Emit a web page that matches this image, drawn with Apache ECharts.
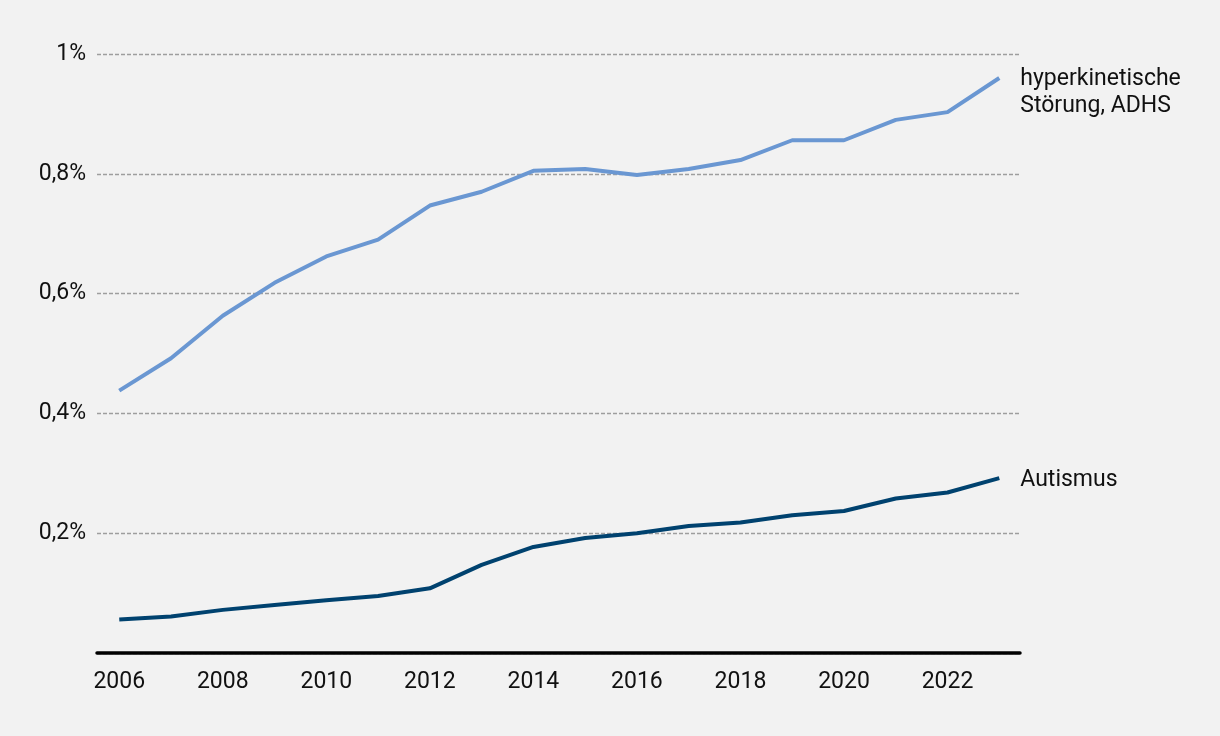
<!DOCTYPE html>
<html><head><meta charset="utf-8">
<script src="https://cdn.jsdelivr.net/npm/echarts@6/dist/echarts.min.js"></script>
<style>html,body{margin:0;padding:0;background:#f2f2f2;}#c{width:1220px;height:736px;}</style>
</head><body><div id="c"></div>
<script>
const years = [2006,2007,2008,2009,2010,2011,2012,2013,2014,2015,2016,2017,2018,2019,2020,2021,2022,2023];
const adhs = [0.438,0.492,0.563,0.618,0.662,0.690,0.747,0.770,0.805,0.808,0.798,0.808,0.823,0.856,0.856,0.890,0.903,0.960];
const autismus = [0.056,0.061,0.072,0.080,0.088,0.095,0.108,0.147,0.177,0.192,0.200,0.212,0.218,0.230,0.237,0.258,0.268,0.292];
const xTickLabels = [2006,2008,2010,2012,2014,2016,2018,2020,2022];
const seriesNames = ['hyperkinetische\nStörung, ADHS','Autismus'];
const FONT = 'Roboto, sans-serif';
const FS = 23;
const chart = echarts.init(document.getElementById('c'));
chart.setOption({
  backgroundColor:'#f2f2f2',
  animation:false,
  grid:{left:97,right:200,top:54,bottom:83,containLabel:false},
  xAxis:{type:'value',min:2005.57,max:2023.4,
    axisLine:{show:true,lineStyle:{color:'#000',width:3.5}},
    axisTick:{show:false},
    splitLine:{show:false},
    axisLabel:{customValues:xTickLabels,formatter:v=>String(v),color:'#111',fontFamily:FONT,fontSize:FS,margin:18}
  },
  yAxis:{type:'value',min:0,max:1,interval:0.2,
    axisLine:{show:false},axisTick:{show:false},
    splitLine:{show:true,lineStyle:{color:'#9e9e9e',type:[4,2],width:1.3}},
    axisLabel:{color:'#111',fontFamily:FONT,fontSize:FS,margin:11,
      formatter:v=>{ if(v===0) return ''; const r=Math.round(v*10)/10; return (r===1?'1':String(r).replace('.',','))+'%'; }}
  },
  series:[
    {name:seriesNames[0],type:'line',data:years.map((y,i)=>[y,adhs[i]]),showSymbol:false,
     lineStyle:{color:'#6a97d2',width:4},itemStyle:{color:'#6a97d2'},
     endLabel:{show:true,formatter:seriesNames[0],color:'#111',fontFamily:FONT,fontSize:FS,lineHeight:27,distance:21,offset:[0,15]}},
    {name:seriesNames[1],type:'line',data:years.map((y,i)=>[y,autismus[i]]),showSymbol:false,
     lineStyle:{color:'#00426f',width:4},itemStyle:{color:'#00426f'},
     endLabel:{show:true,formatter:seriesNames[1],color:'#111',fontFamily:FONT,fontSize:FS,distance:21,offset:[0,2]}}
  ]
});
</script></body></html>
